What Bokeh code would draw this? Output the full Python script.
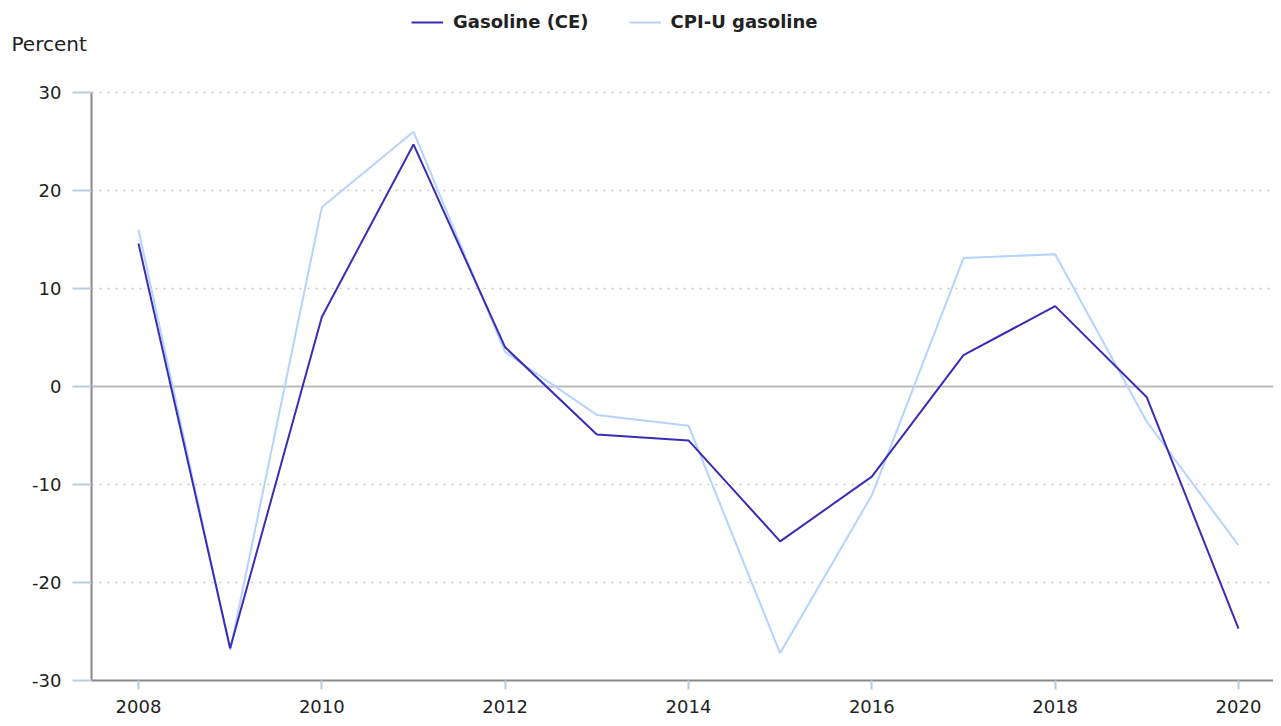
from bokeh.plotting import figure
from bokeh.models import Range1d, FixedTicker, Legend, LegendItem, Label
from bokeh.embed import file_html
from bokeh.resources import INLINE

years = [2008, 2009, 2010, 2011, 2012, 2013, 2014, 2015, 2016, 2017, 2018, 2019, 2020]
gasoline_ce = [14.6, -26.7, 7.1, 24.7, 4.0, -4.9, -5.5, -15.8, -9.2, 3.2, 8.2, -1.1, -24.7]
cpi_u_gasoline = [16.0, -26.9, 18.3, 26.0, 3.5, -2.9, -4.0, -27.2, -11.1, 13.1, 13.5, -3.6, -16.2]
x_ticks = [2008, 2010, 2012, 2014, 2016, 2018, 2020]
y_ticks = [-30, -20, -10, 0, 10, 20, 30]
y_tick_labels = ["-30", "-20", "-10", "0", "10", "20", "30"]
y_grid = [-20, -10, 10, 20, 30]

FONT = "DejaVu Sans"
TXT = "#222222"

# axis extents (data units); the frame extends further so that the
# legend, the "Percent" caption and the axis labels are drawn inside it
X_AXIS_START, X_AXIS_END = 2007.487, 2020.382
Y_MIN, Y_MAX = -30, 30

p = figure(width=1273, height=718, output_backend="svg", toolbar_location=None,
           x_range=Range1d(2006.4945, X_AXIS_END), y_range=Range1d(-33.878, 39.388),
           min_border_left=0, min_border_right=0, min_border_top=0, min_border_bottom=0)
p.outline_line_color = None
p.background_fill_color = "white"
p.xgrid.visible = False
p.ygrid.visible = False

for ax in (p.xaxis[0], p.yaxis[0]):
    ax.major_label_text_font = FONT
    ax.major_label_text_font_size = "18px"
    ax.major_label_text_color = TXT
    ax.axis_line_color = "#888888"
    ax.axis_line_width = 2
    ax.major_tick_line_color = "#b8cde0"
    ax.major_tick_line_width = 2
    ax.minor_tick_line_color = None

p.xaxis.ticker = FixedTicker(ticks=x_ticks)
p.xaxis.bounds = (X_AXIS_START, X_AXIS_END)
p.xaxis.fixed_location = Y_MIN
p.xaxis.major_tick_out = 9
p.xaxis.major_tick_in = 0
p.xaxis.major_label_standoff = 11

p.yaxis.ticker = FixedTicker(ticks=y_ticks)
p.yaxis.major_label_overrides = dict(zip(y_ticks, y_tick_labels))
p.yaxis.bounds = (Y_MIN, Y_MAX)
p.yaxis.fixed_location = X_AXIS_START
p.yaxis.major_tick_out = 19
p.yaxis.major_tick_in = 0
p.yaxis.major_label_standoff = 11

# dotted horizontal grid lines, starting at the y axis
p.segment(x0=[X_AXIS_START] * len(y_grid), x1=[X_AXIS_END] * len(y_grid),
          y0=y_grid, y1=y_grid, line_color="#c8c8c8", line_width=1.5, line_dash="2 6")
# zero line
p.segment(x0=[X_AXIS_START], x1=[X_AXIS_END], y0=[0], y1=[0],
          line_color="#bbbbbb", line_width=2)

r_cpi = p.line(years, cpi_u_gasoline, line_color="#b5d3ff", line_width=2)
r_ce = p.line(years, gasoline_ce, line_color="#3a2db5", line_width=2)

legend = Legend(items=[LegendItem(label="Gasoline (CE)", renderers=[r_ce]),
                       LegendItem(label="CPI-U gasoline", renderers=[r_cpi])],
                orientation="horizontal", location=(411, 686),
                label_text_font=FONT, label_text_font_style="bold",
                label_text_font_size="18px", label_text_color=TXT,
                glyph_width=32, spacing=40, label_standoff=10,
                margin=0, padding=0,
                border_line_color=None, background_fill_alpha=0)
p.add_layout(legend, "center")

p.add_layout(Label(x=11, y=675, x_units="screen", y_units="screen", text="Percent",
                   text_baseline="alphabetic",
                   text_font=FONT, text_font_size="20px", text_color=TXT))

open("out.html", "w").write(file_html(p, INLINE))
